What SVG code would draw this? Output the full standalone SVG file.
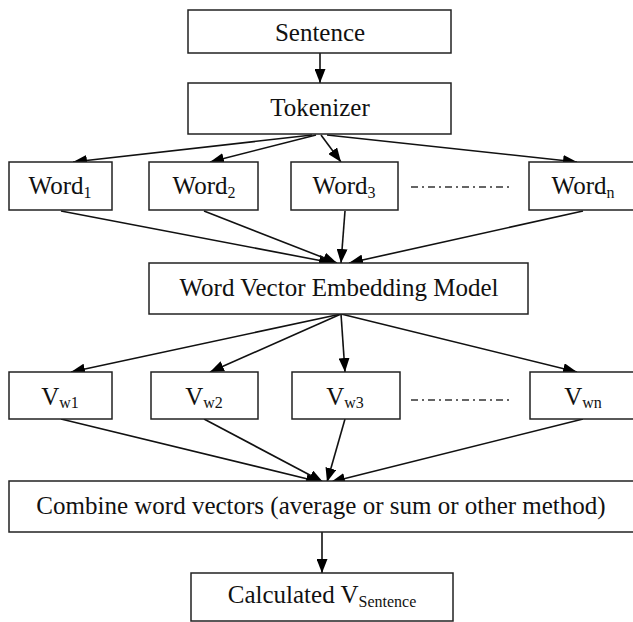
<svg xmlns="http://www.w3.org/2000/svg" width="633" height="622" viewBox="0 0 633 622">
<style>
.box{fill:#fff;stroke:#222;stroke-width:1.5}
text{font-family:"Liberation Serif","Times New Roman",serif;font-size:25px;fill:#111;text-anchor:middle}
.sub{font-size:16px}
.c{stroke:#111;stroke-width:1.6;fill:none;marker-end:url(#ah)}
.dd{stroke:#333;stroke-width:1.5;fill:none;stroke-dasharray:7 4 2 4}
</style>
<defs>
<marker id="ah" viewBox="0 0 14 11" refX="14" refY="5.5" markerWidth="14" markerHeight="11" markerUnits="userSpaceOnUse" orient="auto">
<path d="M0,0 L14,5.5 L0,11 z" fill="#000"/>
</marker>
</defs>
<rect width="633" height="622" fill="#fff"/>
<g id="connectors">
<line class="c" x1="320" y1="53" x2="320" y2="83"/>
<line class="c" x1="312" y1="135" x2="73" y2="162"/>
<line class="c" x1="316" y1="135" x2="210" y2="162"/>
<line class="c" x1="321" y1="135" x2="341" y2="162"/>
<line class="c" x1="327" y1="135" x2="577" y2="162"/>
<line class="c" x1="61" y1="211" x2="333" y2="263"/>
<line class="c" x1="204" y1="211" x2="337" y2="263"/>
<line class="c" x1="345" y1="211" x2="341" y2="263"/>
<line class="c" x1="583" y1="211" x2="349" y2="263"/>
<line class="c" x1="341" y1="314" x2="71" y2="372"/>
<line class="c" x1="341" y1="314" x2="210" y2="372"/>
<line class="c" x1="341" y1="314" x2="345" y2="372"/>
<line class="c" x1="341" y1="314" x2="577" y2="372"/>
<line class="c" x1="61" y1="419" x2="320" y2="482"/>
<line class="c" x1="204" y1="419" x2="323" y2="482"/>
<line class="c" x1="345" y1="419" x2="327" y2="482"/>
<line class="c" x1="583" y1="419" x2="331" y2="482"/>
<line class="c" x1="322" y1="532" x2="322" y2="573"/>
<line class="dd" x1="411" y1="187" x2="510" y2="187"/>
<line class="dd" x1="411" y1="400" x2="510" y2="400"/>
</g>
<g id="sentence"><rect class="box" x="188" y="10" width="263" height="43"/><text x="320" y="41">Sentence</text></g>
<g id="tokenizer"><rect class="box" x="188" y="83" width="263" height="51"/><text x="320" y="116">Tokenizer</text></g>
<g id="word1"><rect class="box" x="9" y="162" width="103" height="48"/><text x="60" y="194">Word<tspan class="sub" dy="4">1</tspan></text></g>
<g id="word2"><rect class="box" x="149" y="162" width="109" height="48"/><text x="204" y="194">Word<tspan class="sub" dy="4">2</tspan></text></g>
<g id="word3"><rect class="box" x="291" y="162" width="107" height="48"/><text x="344" y="194">Word<tspan class="sub" dy="4">3</tspan></text></g>
<g id="wordn"><rect class="box" x="529" y="162" width="110" height="48"/><text x="583" y="194">Word<tspan class="sub" dy="4">n</tspan></text></g>
<g id="embedding"><rect class="box" x="149" y="263" width="379" height="51"/><text x="339" y="296">Word Vector Embedding Model</text></g>
<g id="vw1"><rect class="box" x="9" y="372" width="103" height="47"/><text x="60" y="405">V<tspan class="sub" dy="3">w1</tspan></text></g>
<g id="vw2"><rect class="box" x="151" y="372" width="107" height="47"/><text x="204" y="405">V<tspan class="sub" dy="3">w2</tspan></text></g>
<g id="vw3"><rect class="box" x="292" y="372" width="108" height="47"/><text x="345" y="405">V<tspan class="sub" dy="3">w3</tspan></text></g>
<g id="vwn"><rect class="box" x="530" y="372" width="110" height="47"/><text x="583" y="405">V<tspan class="sub" dy="3">wn</tspan></text></g>
<g id="combine"><rect class="box" x="9" y="481" width="630" height="51"/><text x="321" y="514">Combine word vectors (average or sum or other method)</text></g>
<g id="calculated"><rect class="box" x="191" y="573" width="262" height="48"/><text x="322" y="603">Calculated V<tspan class="sub" dy="4">Sentence</tspan></text></g>
</svg>
